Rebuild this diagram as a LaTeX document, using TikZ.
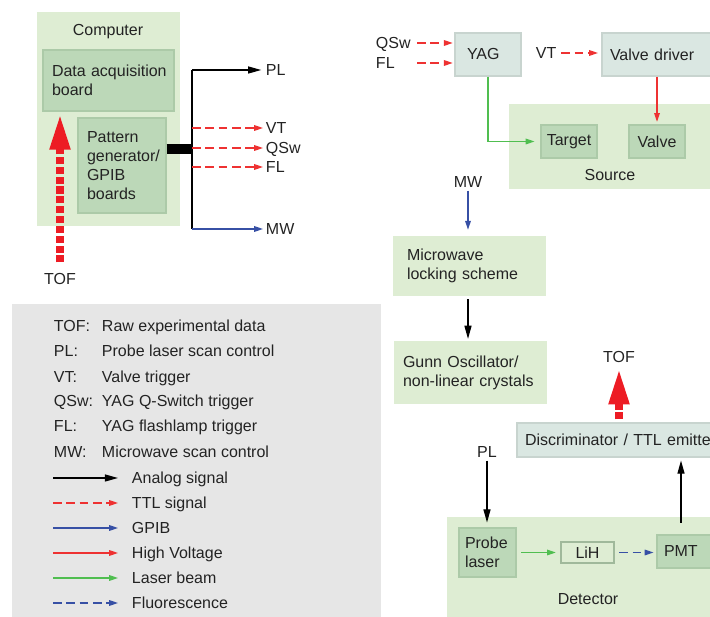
\documentclass[tikz,border=0pt]{standalone}
\usepackage{fontspec}
\setmainfont{Liberation Sans}
\usetikzlibrary{arrows.meta}
\definecolor{txt}{RGB}{35,35,35}
\definecolor{cgreen}{RGB}{222,237,211}
\definecolor{igreen}{RGB}{188,216,184}
\definecolor{igreenb}{RGB}{172,202,168}
\definecolor{cgbox}{RGB}{218,231,226}
\definecolor{cgboxb}{RGB}{200,212,207}
\definecolor{lgray}{RGB}{230,230,230}
\definecolor{ttlred}{RGB}{238,50,50}
\definecolor{bigred}{RGB}{237,28,36}
\definecolor{lgreen}{RGB}{80,190,80}
\definecolor{gblue}{RGB}{55,80,165}
\definecolor{lihb}{RGB}{160,185,155}
\hyphenpenalty=10000
\exhyphenpenalty=10000
\lefthyphenmin=62
\hbadness=10000
\hfuzz=20pt
\begin{document}
\begin{tikzpicture}[x=0.02cm,y=-0.02cm,
  every node/.style={font=\fontsize{9.1}{10.8}\selectfont, text=txt},
  cont/.style={fill=cgreen, draw=none, inner sep=0},
  inbox/.style={fill=igreen, draw=igreenb, line width=0.6pt, inner ysep=0, align=left},
  gbx/.style={fill=cgbox, draw=cgboxb, line width=0.6pt, inner ysep=0, align=left},
  lbl/.style={inner sep=1.5pt, text height=6.5pt, text depth=0pt},
  tipA/.style={-{Triangle[length=5pt,width=3.2pt]}},
  analog/.style={draw=black, line width=0.7pt, -{Triangle[length=7.5pt,width=4pt]}},
  ttl/.style={draw=ttlred, line width=0.7pt, dash pattern=on 5pt off 2.6pt, tipA},
  gpib/.style={draw=gblue, line width=0.7pt, tipA},
  hv/.style={draw=ttlred, line width=0.7pt, tipA},
  laser/.style={draw=lgreen, line width=0.7pt, tipA},
  fluor/.style={draw=gblue, line width=0.7pt, dash pattern=on 5pt off 2.6pt, tipA},
  bigarrow/.style={draw=bigred, line width=4pt, dash pattern=on 4pt off 1.6pt, -{Triangle[length=20pt,width=11pt]}}
]
\useasboundingbox (0,0) rectangle (710,617);
\clip (0,0) rectangle (710,617);

% ---------- Computer ----------
\node[cont, minimum width=2.86cm, minimum height=4.28cm] (comp) at (108.5,119) {};
\node[lbl] (compt) at (108,30) {Computer};
\node[inbox, inner xsep=0.18cm, text width=2.26cm, minimum height=1.22cm] (daq) at (108.5,80.5) {\mbox{Data acquisition}\\board};
\node[inbox, inner xsep=0.18cm, text width=1.40cm, minimum height=1.90cm] (pat) at (122,165.5) {Pattern\\\mbox{generator/}\\GPIB\\boards};

\coordinate (busT) at (192,70);
\coordinate (busM) at (192,149);
\coordinate (busB) at (192,229);
\node[lbl, anchor=west] (plL) at (263,70) {PL};
\node[lbl, anchor=west] (vtL) at (263,128) {VT};
\node[lbl, anchor=west] (qswL) at (263,148) {QSw};
\node[lbl, anchor=west] (flL) at (263,167) {FL};
\node[lbl, anchor=west] (mwL) at (263,229) {MW};

\draw[line width=5.7pt] (pat.east |- busM) -- (busM);
\draw[line width=0.7pt] (busT) -- (busB);
\draw[analog, shorten >=1pt] (busT) -- (plL.west);
\draw[ttl] (busT |- vtL.west) -- (vtL.west);
\draw[ttl] (busT |- qswL.west) -- (qswL.west);
\draw[ttl] (busT |- flL.west) -- (flL.west);
\draw[gpib] (busB) -- (mwL.west);

\node[lbl] (tofA) at (60,279) {TOF};
\draw[bigarrow, shorten <=4.5pt, shorten >=1.7pt] (tofA.north) -- (tofA.north |- daq.south);

% ---------- YAG / Valve driver / Source ----------
\node[gbx, inner xsep=0.24cm, text width=0.84cm, minimum height=0.86cm] (yag) at (488,54.5) {YAG};
\node[gbx, inner xsep=0.16cm, text width=2.04cm, minimum height=0.86cm] (vdrv) at (661,54.5) {\mbox{Valve driver}};
\node[lbl, anchor=west] (qswR) at (373,43) {QSw};
\node[lbl, anchor=west] (flR) at (373,63) {FL};
\node[lbl, anchor=west] (vtR) at (533,53) {VT};
\draw[ttl, shorten <=2pt, shorten >=1pt] (qswR.east) -- (qswR.east -| yag.west);
\draw[ttl, shorten <=2pt, shorten >=1pt] (qswR.east |- flR.east) -- (flR.east -| yag.west);
\draw[ttl, shorten <=1pt, shorten >=2pt] (vtR.east) -- (vtR.east -| vdrv.west);

\node[cont, minimum width=4.22cm, minimum height=1.70cm] (src) at (614.5,146.5) {};
\node[lbl] (srct) at (610,175) {Source};
\node[inbox, inner xsep=0pt, minimum width=1.12cm, minimum height=0.66cm, align=center] (target) at (569,141.5) {Target};
\node[inbox, inner xsep=0pt, minimum width=1.12cm, minimum height=0.66cm, align=center] (valve) at (657,141.5) {Valve};
\draw[hv, shorten >=1.5pt] (valve.north |- vdrv.south) -- (valve.north);
\draw[laser, shorten >=3.4pt] (yag.south) |- (target.west);

% ---------- Microwave ----------
\node[lbl] (mwR) at (468,182) {MW};
\node[cont, inner xsep=0.28cm, text width=2.5cm, minimum height=1.2cm, align=left] (micro) at (469.5,266) {Microwave\\\mbox{locking scheme}};
\node[cont, inner xsep=0.18cm, text width=2.7cm, minimum height=1.26cm, align=left] (gunn) at (470.5,372.5) {\mbox{Gunn Oscillator/}\\\mbox{non-linear crystals}};
\draw[gpib, shorten >=3.4pt] (mwR.south) -- (mwR.south |- micro.north);
\draw[analog, shorten <=1.7pt, shorten >=1pt] (micro.south -| mwR.south) -- (mwR.south |- gunn.north);

% ---------- Detector ----------
\node[gbx, inner xsep=0.16cm, text width=3.74cm, minimum height=0.68cm] (disc) at (618.5,440) {\mbox{Discriminator / TTL emitter}};
\node[lbl] (tofB) at (619,357) {TOF};
\draw[bigarrow, shorten <=1.7pt, shorten >=2pt] (tofB.south |- disc.north) -- (tofB.south);

\node[cont, minimum width=5.46cm, minimum height=2.16cm] (det) at (583.5,571) {};
\node[lbl] (dett) at (588,599) {Detector};
\node[inbox, inner xsep=0.12cm, text width=0.90cm, minimum height=0.98cm] (probe) at (487.5,552.5) {Probe\\laser};
\node[fill=cgreen, draw=lihb, line width=1.3pt, inner sep=0, minimum width=1.06cm, minimum height=0.42cm] (lih) at (587.5,552.5) {LiH};
\node[inbox, inner xsep=0.14cm, text width=0.98cm, minimum height=0.66cm] (pmt) at (688.5,551.5) {PMT};
\node[lbl] (plR) at (487,452) {PL};
\draw[analog, shorten >=2.8pt] (plR.south) -- (plR.south |- probe.north);
\draw[laser, shorten <=2.8pt, shorten >=2.3pt] (probe.east) -- (probe.east -| lih.west);
\draw[fluor, shorten <=2.3pt, shorten >=1.7pt] (lih.east) -- (lih.east -| pmt.west);
\draw[analog, shorten <=6.8pt, shorten >=1.7pt] ([xshift=-0.15cm]pmt.north) -- ([xshift=-0.15cm]pmt.north |- disc.south);

% ---------- Legend ----------
\node[fill=lgray, draw=none, inner sep=0, minimum width=7.38cm, minimum height=6.52cm] (legend) at (196.5,467) {};
\foreach \ab/\de/\yy [count=\i] in {TOF:/Raw experimental data/326, PL:/Probe laser scan control/351, VT:/Valve trigger/377, QSw:/YAG Q-Switch trigger/401, FL:/YAG flashlamp trigger/426, MW:/Microwave scan control/452} {
  \node[lbl, anchor=west] (ab\i) at (51,\yy) {\ab};
  \node[lbl, anchor=west] (de\i) at (99,\yy) {\de};
}
\foreach \st/\la/\yy [count=\i] in {analog/Analog signal/478, ttl/TTL signal/503, gpib/GPIB/528, hv/High Voltage/553, laser/Laser beam/578, fluor/Fluorescence/603} {
  \coordinate (ls\i) at (53,\yy);
  \coordinate (le\i) at (118,\yy);
  \node[lbl, anchor=west] (ll\i) at (129,\yy) {\la};
  \draw[\st] (ls\i) -- (le\i);
}
\end{tikzpicture}
\end{document}
